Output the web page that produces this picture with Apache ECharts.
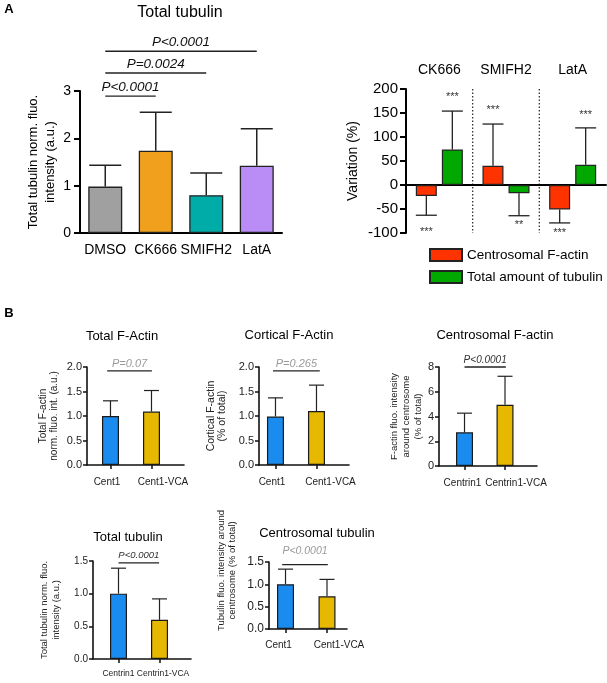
<!DOCTYPE html>
<html><head><meta charset="utf-8">
<script src="https://cdn.jsdelivr.net/npm/echarts@6/dist/echarts.min.js"></script>
<style>html,body{margin:0;padding:0;background:#fff}#c{width:607px;height:683px}</style>
</head><body><div id="c"></div>
<script>
// ---------- DATA ----------
// Panel A (left): Total tubulin
const aCats = ['DMSO', 'CK666', 'SMIFH2', 'LatA'];
const aVals = [0.98, 1.74, 0.80, 1.42];
const aErr = [1.43, 2.55, 1.27, 2.20];
const aColors = ['#a0a0a0', '#f0a01c', '#00aca8', '#b98cf6'];
const aSig = [[0, 1, 2.89, 'P<0.0001'], [0, 2, 3.38, 'P=0.0024'], [0, 3, 3.84, 'P<0.0001']];
const aTicks = [0, 1, 2, 3];
// Panel A (right): Variation (%)
const vCats = ['CK666', 'SMIFH2', 'LatA'];
const vNames = ['Centrosomal F-actin', 'Total amount of tubulin'];
const vCentF = [-23, 40, -51];
const vCentFErr = [-63, 127, -79];
const vTub = [74, -17, 42];
const vTubErr = [154, -64, 119];
const vCentFStars = [['***', -98], ['***', 157], ['***', -100]];
const vTubStars = [['***', 183], ['**', -84], ['***', 146]];
// Panel B
const b1Cats = ['Cent1', 'Cent1-VCA'];
const b1Vals = [1.0, 1.09];
const b1Err = [1.31, 1.52];
const b1Sig = [[-0.08, 1.01, 1.92, 'P=0.07']];
const b2Cats = ['Cent1', 'Cent1-VCA'];
const b2Vals = [0.99, 1.10];
const b2Err = [1.37, 1.63];
const b2Sig = [[-0.06, 1.08, 1.92, 'P=0.265']];
const b3Cats = ['Centrin1', 'Centrin1-VCA'];
const b3Vals = [2.72, 4.95];
const b3Err = [4.27, 7.25];
const b3Sig = [[0, 1.02, 8.0, 'P<0.0001']];
const b4Cats = ['Centrin1', 'Centrin1-VCA'];
const b4Vals = [1.0, 0.60];
const b4Err = [1.39, 0.92];
const b4Sig = [[0, 0.99, 1.47, 'P<0.0001']];
const b5Cats = ['Cent1', 'Cent1-VCA'];
const b5Vals = [1.0, 0.73];
const b5Err = [1.34, 1.11];
const b5Sig = [[-0.08, 1.02, 1.44, 'P<0.0001']];
const bColors = ['#1a8cf0', '#e6b800'];

// ---------- STYLE / LAYOUT ----------
const FF = '"Liberation Sans", Arial, Helvetica, sans-serif';
const chart = echarts.init(document.getElementById('c'));

function errSeries(xi, yi, xs, vals, ends, offset, capW, lw) {
  return {
    type: 'custom', xAxisIndex: xi, yAxisIndex: yi, clip: false, silent: true, z: 1,
    encode: { x: 0, y: [1, 2] },
    data: vals.map((v, i) => [xs[i], v, ends[i]]),
    renderItem: (params, api) => {
      const p0 = api.coord([api.value(0), api.value(1)]);
      const p1 = api.coord([api.value(0), api.value(2)]);
      const x = p0[0] + offset;
      const st = { stroke: '#222', lineWidth: lw || 1.3 };
      return { type: 'group', children: [
        { type: 'line', shape: { x1: x, y1: p0[1], x2: x, y2: p1[1] }, style: st },
        { type: 'line', shape: { x1: x - capW / 2, y1: p1[1], x2: x + capW / 2, y2: p1[1] }, style: st }
      ] };
    }
  };
}
function sigSeries(xi, yi, sig, color, gap, fs) {
  return {
    type: 'custom', xAxisIndex: xi, yAxisIndex: yi, clip: false, silent: true, z: 5,
    encode: { x: [0, 1], y: 2 },
    data: sig.map(s => [s[0], s[1], s[2]]),
    renderItem: (params, api) => {
      const s = sig[params.dataIndex];
      const a = api.coord([api.value(0), api.value(2)]);
      const b = api.coord([api.value(1), api.value(2)]);
      return { type: 'group', children: [
        { type: 'line', shape: { x1: a[0], y1: a[1], x2: b[0], y2: b[1] }, style: { stroke: '#222', lineWidth: 1.3 } },
        { type: 'text', style: { x: (a[0] + b[0]) / 2, y: a[1] - gap, text: s[3], align: 'center', verticalAlign: 'bottom',
          textAlign: 'center', textVerticalAlign: 'bottom', font: 'italic ' + fs + 'px ' + FF, fill: color } }
      ] };
    }
  };
}
function starSeries(xi, yi, stars, offset) {
  return {
    type: 'custom', xAxisIndex: xi, yAxisIndex: yi, clip: false, silent: true, z: 5,
    encode: { x: 0, y: 1 },
    data: stars.map((s, i) => [i, s[1]]),
    renderItem: (params, api) => {
      const p = api.coord([api.value(0), api.value(1)]);
      return { type: 'text', style: { x: p[0] + offset, y: p[1], text: stars[params.dataIndex][0], align: 'center', verticalAlign: 'middle',
        textAlign: 'center', textVerticalAlign: 'middle', font: '11px ' + FF, fill: '#333' } };
    }
  };
}

const grids = [
  { left: 80, top: 91, width: 202, height: 142 },   // A left
  { left: 406, top: 89, width: 200, height: 144 },  // A right
  { left: 87, top: 367, width: 97, height: 98 },    // B1
  { left: 259, top: 367, width: 90, height: 98 },   // B2
  { left: 439, top: 367, width: 98, height: 99 },   // B3
  { left: 93, top: 561, width: 98, height: 98 },    // B4
  { left: 269, top: 562, width: 78, height: 98 }    // B5
];
const bPanels = [
  { cats: b1Cats, vals: b1Vals, err: b1Err, sig: b1Sig, sigColor: '#9a9a9a', sigGap: 1, sigFs: 11, xmin: -0.573, xmax: 1.793,
    ymax: 2, yint: 0.5, dec: 1, name: 'Total F-actin\nnorm. fluo. int. (a.u.)', nfs: 10, nlh: 11, ngap: 27, npad: 0, tfs: 11, xfs: 10, xm: 12, sh: [-3.5, 11.5] },
  { cats: b2Cats, vals: b2Vals, err: b2Err, sig: b2Sig, sigColor: '#9a9a9a', sigGap: 1, sigFs: 11, xmin: -0.402, xmax: 1.793,
    ymax: 2, yint: 0.5, dec: 1, name: 'Cortical F-actin\n(% of total)', nfs: 10.5, nlh: 11, ngap: 31, npad: 0, tfs: 11, xfs: 10, xm: 12, sh: [-3.5, 14] },
  { cats: b3Cats, vals: b3Vals, err: b3Err, sig: b3Sig, sigColor: '#333', sigGap: 2, sigFs: 10, xmin: -0.63, xmax: 1.79,
    ymax: 8, yint: 2, dec: 0, name: 'F-actin fluo. intensity\naround centrosome\n(% of total)', nfs: 9.5, nlh: 12, ngap: 15, npad: 0, tfs: 11, xfs: 10, xm: 12, sh: [-2, 11] },
  { cats: b4Cats, vals: b4Vals, err: b4Err, sig: b4Sig, sigColor: '#333', sigGap: 3, sigFs: 9.5, xmin: -0.622, xmax: 1.768,
    ymax: 1.5, yint: 0.5, dec: 1, name: 'Total tubulin norm. fluo.\nintensity (a.u.)', nfs: 9.5, nlh: 11.5, ngap: 31, npad: 0, tfs: 10, xfs: 8.5, xm: 10, sh: [0, 3.5] },
  { cats: b5Cats, vals: b5Vals, err: b5Err, sig: b5Sig, sigColor: '#9a9a9a', sigGap: 8, sigFs: 10.5, xmin: -0.398, xmax: 1.482,
    ymax: 1.5, yint: 0.5, dec: 1, name: 'Tubulin fluo. intensity around\ncentrosome (% of total)', nfs: 9.5, nlh: 11, ngap: 31, npad: 50, tfs: 12, xfs: 10, xm: 11, sh: [-7, 12] }
];

const xAxis = [
  { gridIndex: 0, type: 'category', data: aCats,
    axisLine: { lineStyle: { color: '#000', width: 2 } },
    axisTick: { alignWithLabel: true, length: 6, lineStyle: { color: '#000', width: 2 } },
    axisLabel: { color: '#000', fontSize: 14, fontFamily: FF, margin: 10, interval: 0 } },
  { gridIndex: 1, type: 'category', data: vCats,
    axisLine: { onZero: true, lineStyle: { color: '#000', width: 2 } },
    axisTick: { show: false }, axisLabel: { show: false } },
  { gridIndex: 1, type: 'category', data: vCats, position: 'top',
    axisLine: { show: false, onZero: false }, axisTick: { show: false },
    axisLabel: { color: '#000', fontSize: 14, fontFamily: FF, margin: 12, interval: 0 } }
];
const yAxis = [
  { gridIndex: 0, type: 'value', min: 0, max: 3, interval: 1,
    name: 'Total tubulin norm. fluo.\nintensity (a.u.)', nameLocation: 'middle', nameRotate: 90, nameGap: 21,
    nameTextStyle: { color: '#000', fontSize: 13, fontFamily: FF, lineHeight: 17 },
    axisLine: { show: true, onZero: false, lineStyle: { color: '#000', width: 2 } },
    axisTick: { show: true, length: 6, lineStyle: { color: '#000', width: 2 } },
    axisLabel: { color: '#000', fontSize: 14, fontFamily: FF, margin: 9, formatter: v => aTicks.includes(v) ? String(v) : '' },
    splitLine: { show: false } },
  { gridIndex: 1, type: 'value', min: -100, max: 200, interval: 50,
    name: 'Variation (%)', nameLocation: 'middle', nameRotate: 90, nameGap: 46,
    nameTextStyle: { color: '#000', fontSize: 14, fontFamily: FF },
    axisLine: { show: true, onZero: false, lineStyle: { color: '#000', width: 2 } },
    axisTick: { show: true, length: 6, lineStyle: { color: '#000', width: 2 } },
    axisLabel: { color: '#000', fontSize: 15, fontFamily: FF, margin: 8 },
    splitLine: { show: false } }
];
const series = [];

// Panel A left
series.push({
  type: 'bar', xAxisIndex: 0, yAxisIndex: 0, barWidth: 34, z: 2,
  data: aVals.map((v, i) => ({ value: v, itemStyle: { color: aColors[i] } })),
  itemStyle: { borderColor: '#222', borderWidth: 1.3 }
});
series.push(errSeries(0, 0, aCats.map((c, i) => i), aVals, aErr, 0, 32, 1.5));
series.push(sigSeries(0, 0, aSig, '#111', 2, 13.5));

// Panel A right
const OFF = 13;
series.push({
  name: vNames[0], type: 'bar', xAxisIndex: 1, yAxisIndex: 1, barWidth: 21, barGap: '24%', z: 2,
  data: vCentF, itemStyle: { color: '#ff3300', borderColor: '#222', borderWidth: 1.2 }
});
series.push({
  name: vNames[1], type: 'bar', xAxisIndex: 1, yAxisIndex: 1, barWidth: 21, barGap: '24%', z: 2,
  data: vTub, itemStyle: { color: '#00a800', borderColor: '#222', borderWidth: 1.2 }
});
series.push(errSeries(1, 1, vCats.map((c, i) => i), vCentF, vCentFErr, -OFF, 21));
series.push(errSeries(1, 1, vCats.map((c, i) => i), vTub, vTubErr, OFF, 21));
series.push(starSeries(1, 1, vCentFStars, -OFF));
series.push(starSeries(1, 1, vTubStars, OFF));
// dotted dividers between treatment groups
series.push({
  type: 'custom', xAxisIndex: 1, yAxisIndex: 1, silent: true, clip: false, z: 0,
  encode: { x: 0, y: 1 },
  data: [[0, 0], [1, 0]],
  renderItem: (params, api) => {
    const p = api.coord([api.value(0), 0]);
    const bw = api.size([1, 0])[0];
    const cs = params.coordSys;
    const x = p[0] + bw / 2;
    return { type: 'line', shape: { x1: x, y1: cs.y, x2: x, y2: cs.y + cs.height },
      style: { stroke: '#333', lineWidth: 1.3, lineDash: [1.5, 2] } };
  }
});

// Panel B
bPanels.forEach((p, k) => {
  const gi = 2 + k;
  const xi = 3 + k;
  xAxis.push({
    gridIndex: gi, type: 'value', min: p.xmin, max: p.xmax,
    axisLine: { show: true, onZero: false, lineStyle: { color: '#111', width: 1.6 } },
    axisTick: { show: true, length: 4, customValues: [0, 1], lineStyle: { color: '#111', width: 1.5 } },
    axisLabel: { show: false },
    splitLine: { show: false }
  });
  yAxis.push({
    gridIndex: gi, type: 'value', min: 0, max: p.ymax, interval: p.yint,
    name: p.name, nameLocation: 'middle', nameRotate: 90, nameGap: p.ngap,
    nameTextStyle: { color: '#222', fontSize: p.nfs, fontFamily: FF, lineHeight: p.nlh, padding: [0, 0, 0, p.npad] },
    axisLine: { show: true, onZero: false, lineStyle: { color: '#111', width: 1.6 } },
    axisTick: { show: true, length: 4, lineStyle: { color: '#111', width: 1.5 } },
    axisLabel: { color: '#222', fontSize: p.tfs, fontFamily: FF, margin: 5, formatter: v => v.toFixed(p.dec) },
    splitLine: { show: false }
  });
  series.push({
    type: 'bar', xAxisIndex: xi, yAxisIndex: gi, barWidth: 17, z: 2,
    data: p.vals.map((v, i) => ({
      value: [i, v], name: p.cats[i], itemStyle: { color: bColors[i] },
      label: { show: true, position: 'bottom', distance: p.xm, offset: [p.sh[i], 0], formatter: p.cats[i],
        color: '#222', fontSize: p.xfs, fontFamily: FF }
    })),
    itemStyle: { borderColor: '#1a1a1a', borderWidth: 1.2 }
  });
  series.push(errSeries(xi, gi, [0, 1], p.vals, p.err, 0, 15, 1.2));
  series.push(sigSeries(xi, gi, p.sig, p.sigColor, p.sigGap, p.sigFs));
});

const txt = (x, y, t, fs, weight) => ({
  type: 'text', x: x, y: y,
  style: { text: t, font: (weight || 'normal') + ' ' + fs + 'px ' + FF, fill: '#000', align: 'center', verticalAlign: 'middle', textAlign: 'center', textVerticalAlign: 'middle' }
});

chart.setOption({
  animation: false,
  backgroundColor: '#fff',
  textStyle: { fontFamily: FF },
  grid: grids,
  xAxis: xAxis,
  yAxis: yAxis,
  legend: {
    data: vNames, orient: 'vertical', left: 429, top: 248, itemWidth: 32, itemHeight: 12, itemGap: 8,
    icon: 'rect', selectedMode: false, padding: 0,
    textStyle: { color: '#000', fontSize: 13.5, fontFamily: FF }
  },
  graphic: [
    txt(9, 9, 'A', 13, 'bold'),
    txt(9, 313, 'B', 13, 'bold'),
    txt(180, 13, 'Total tubulin', 16),
    txt(122, 336, 'Total F-Actin', 13),
    txt(289, 335, 'Cortical F-Actin', 13),
    txt(495, 335, 'Centrosomal F-actin', 13),
    txt(128, 537, 'Total tubulin', 13),
    txt(317, 533, 'Centrosomal tubulin', 13)
  ],
  series: series
});
</script></body></html>
